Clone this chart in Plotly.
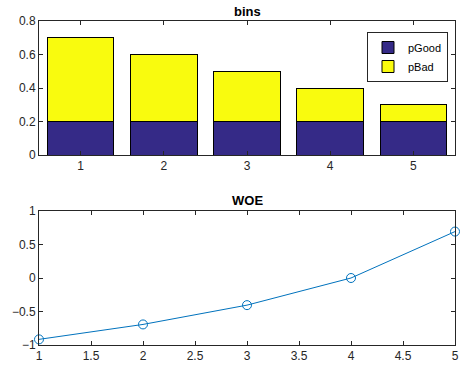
import plotly.graph_objects as go

bins = [1, 2, 3, 4, 5]
p_good = [0.2, 0.2, 0.2, 0.2, 0.2]
p_bad = [0.5, 0.4, 0.3, 0.2, 0.1]
woe = [-0.916, -0.693, -0.405, 0.0, 0.693]

W, H = 463, 370
L, R, T, B = 39, 8, 21, 25
PH = H - T - B
FONT = "Liberation Sans, Arial, Helvetica, sans-serif"
AX = "#262626"

fig = go.Figure()
fig.add_trace(go.Bar(x=bins, y=p_good, name="pGood", marker=dict(color="#352a87", line=dict(color="black", width=1)),
                     width=0.8, xaxis="x", yaxis="y"))
fig.add_trace(go.Bar(x=bins, y=p_bad, name="pBad", marker=dict(color="#f9fb0e", line=dict(color="black", width=1)),
                     width=0.8, xaxis="x", yaxis="y"))
fig.add_trace(go.Scatter(x=bins, y=woe, mode="lines+markers", showlegend=False, cliponaxis=False,
                         line=dict(color="#0072bd", width=1),
                         marker=dict(symbol="circle-open", size=9, color="#0072bd", line=dict(width=1)),
                         xaxis="x2", yaxis="y2"))

def ax(**kw):
    d = dict(showgrid=False, zeroline=False, showline=True, mirror="ticks", ticks="inside",
             ticklen=4, tickwidth=1, tickcolor=AX, linecolor=AX, linewidth=1, automargin=False,
             tickfont=dict(family=FONT, size=12, color=AX))
    d.update(kw)
    return d

def py(px):
    return (H - B - px) / PH

fig.update_layout(
    width=W, height=H, margin=dict(l=L, r=R, t=T, b=B, autoexpand=False),
    paper_bgcolor="white", plot_bgcolor="white", barmode="stack",
    font=dict(family=FONT, color=AX),
    xaxis=ax(domain=[0, 1], range=[0.5, 5.5], tickvals=bins, anchor="y"),
    yaxis=ax(domain=[py(155), 1], range=[0, 0.8], tickvals=[0, 0.2, 0.4, 0.6, 0.8], anchor="x"),
    xaxis2=ax(domain=[0, 1], range=[1, 5], tickvals=[1, 1.5, 2, 2.5, 3, 3.5, 4, 4.5, 5], anchor="y2"),
    yaxis2=ax(domain=[0, py(211)], range=[-1, 1], tickvals=[-1, -0.5, 0, 0.5, 1], anchor="x2"),
    legend=dict(x=(367 - L) / (W - L - R), y=py(32), xanchor="left", yanchor="top", bgcolor="white",
                bordercolor=AX, borderwidth=1, font=dict(family=FONT, size=11, color="black"),
                traceorder="normal", tracegroupgap=0),
    annotations=[
        dict(text="<b>bins</b>", x=0.5, y=py(11), xref="paper", yref="paper", yanchor="middle",
             showarrow=False, font=dict(family=FONT, size=13, color="black")),
        dict(text="<b>WOE</b>", x=0.5, y=py(200), xref="paper", yref="paper", yanchor="middle",
             showarrow=False, font=dict(family=FONT, size=13, color="black")),
    ],
)

fig.write_html("out.html", config={"displayModeBar": False},
               post_script="document.body.style.margin='0';document.body.style.overflow='hidden';")
